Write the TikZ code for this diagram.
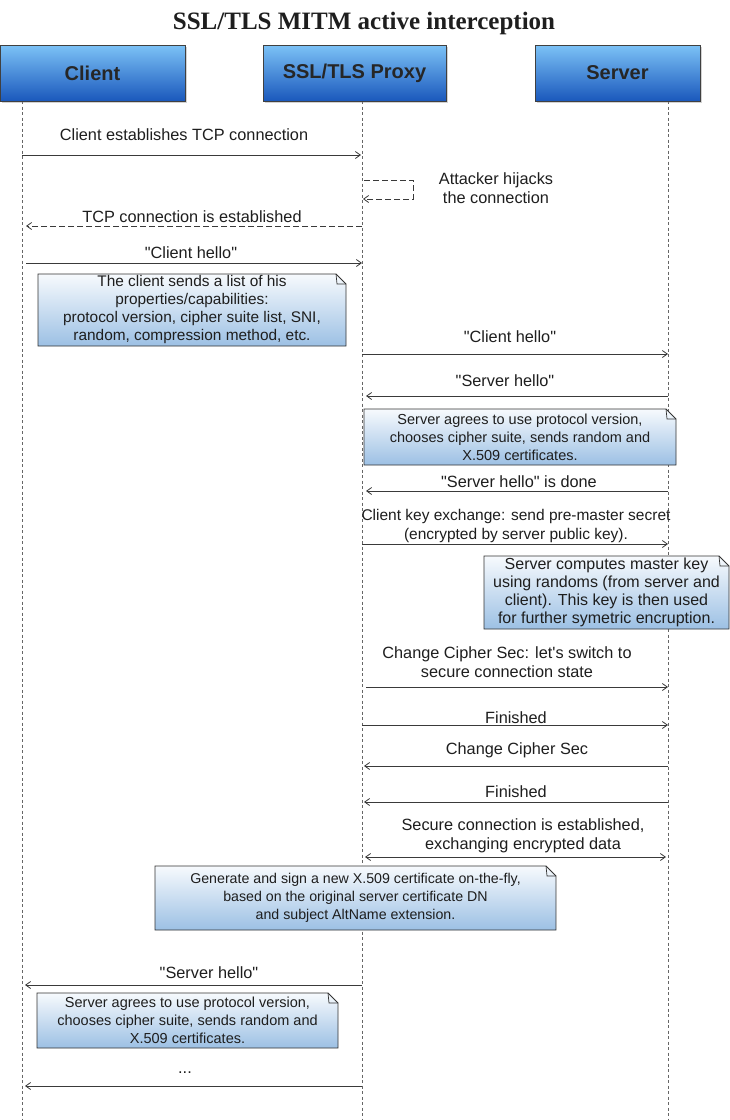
\documentclass[tikz,border=0pt]{standalone}
\usepackage{fontspec}
\setmainfont{Liberation Sans}[Ligatures=TeXOff]
\newfontfamily\titlefont{Liberation Serif}
\usetikzlibrary{arrows.meta,shadows}
\definecolor{txt}{HTML}{1E1E1E}
\definecolor{hdtop}{HTML}{7CC2F6}
\definecolor{hdbot}{HTML}{1A58BC}
\definecolor{ntop}{HTML}{F7FAFD}
\definecolor{nbot}{HTML}{9CC0E4}
\definecolor{linec}{HTML}{3A3A3A}
\tikzset{
  lifeline/.style={draw=black!60, line width=0.7pt, dash pattern=on 3pt off 2.5pt},
  msg/.style={draw=linec, line width=0.8pt, -{Straight Barb[length=5pt,width=7pt]}},
  dmsg/.style={draw=linec, line width=0.8pt, {Straight Barb[length=5pt,width=7pt]}-{Straight Barb[length=5pt,width=7pt]}},
  reply/.style={msg, dash pattern=on 6pt off 3pt},
  lbl/.style={text=txt, font=\fontsize{16.3}{19}\selectfont, align=center, inner sep=0pt},
  notetxt/.style={text=txt, font=\fontsize{14.5}{18}\selectfont, align=center, inner sep=0pt},
  notemid/.style={text=txt, font=\fontsize{15.4}{18}\selectfont, align=center, inner sep=0pt},
  notesm/.style={text=txt, font=\fontsize{14.2}{18}\selectfont, align=center, inner sep=0pt},
  notebig/.style={text=txt, font=\fontsize{16}{18}\selectfont, align=center, inner sep=0pt},
  header/.style={draw=black!75, line width=0.8pt, top color=hdtop, bottom color=hdbot,
    font=\bfseries\fontsize{20}{24}\selectfont, text=black!85, minimum height=56pt,
    drop shadow={shadow xshift=2pt, shadow yshift=-2pt, opacity=0.35}},
  notebg/.style={draw=black!80, line width=0.8pt, top color=ntop, bottom color=nbot},
  fold/.style={draw=black!80, line width=0.7pt}
}
\newcommand\notebox[7]{%
  \shade[notebg] (#3,#4) -- (#5-10,#4) -- (#5,#4+10) -- (#5,#6) -- (#3,#6) -- cycle;
  \draw[fold] (#5-10,#4) -- (#5-9,#4+10) -- (#5,#4+10);
  \node[#2] (#1) at ({(#3+#5)/2},{(#4+#6)/2}) {#7};
}
\begin{document}
\begin{tikzpicture}[x=1pt,y=-1pt]
\useasboundingbox[fill=white] (0,0) rectangle (730,1120);

\node[font=\titlefont\bfseries\fontsize{25}{30}\selectfont, text=txt, anchor=base] (title) at (364,29) {SSL/TLS MITM active interception};

% lifelines
\coordinate (cL) at (22,101);
\coordinate (pL) at (362,101);
\coordinate (sL) at (668,101);
\coordinate (cE) at (22,1120);
\coordinate (pE) at (362,1120);
\coordinate (sE) at (668,1120);
\draw[lifeline] (cL) -- (cE);
\draw[lifeline] (pL) -- (pE);
\draw[lifeline] (sL) -- (sE);

% headers
\node[header, minimum width=185pt] (client) at (92.5,73) {Client};
\node[header, minimum width=183pt] (proxy) at (354.5,73) {SSL/TLS Proxy};
\node[header, minimum width=165pt] (server) at (617.5,73) {Server};

% 1
\node[lbl] (m1) at (184,135) {Client establishes TCP connection};
\coordinate (y1) at (0,155);
\draw[msg] (cL |- y1) -- ([xshift=-1pt]pL |- y1);

% self loop
\coordinate (y2a) at (0,180);
\coordinate (y2b) at (0,199);
\coordinate (lp) at (413,180);
\draw[reply] ([xshift=2pt]pL |- y2a) -- (lp) -- (lp |- y2b) -- ([xshift=1pt]pL |- y2b);
\node[lbl] (m2) at (496,188) {Attacker hijacks\\the connection};

% 3
\node[lbl] (m3) at (192,217) {TCP connection is established};
\coordinate (y3) at (0,226);
\draw[reply] (pL |- y3) -- ([xshift=4pt]cL |- y3);

% 4
\node[lbl] (m4) at (191,253) {"Client hello"};
\coordinate (y4) at (0,263);
\draw[msg] ([xshift=4pt]cL |- y4) -- (pL |- y4);

\notebox{n1}{notemid}{38}{274}{346}{346}{The client sends a list of his\\properties/capabilities:\\protocol version, cipher suite list, SNI,\\random, compression method, etc.}

% 6
\node[lbl] (m6) at (510,337) {"Client hello"};
\coordinate (y6) at (0,354);
\draw[msg] (pL |- y6) -- (sL |- y6);

% 7
\node[lbl] (m7) at (505,381) {"Server hello"};
\coordinate (y7) at (0,396);
\draw[msg] (sL |- y7) -- ([xshift=4pt]pL |- y7);

\notebox{n2}{notetxt}{364}{409}{676}{465}{Server agrees to use protocol version,\\chooses cipher suite, sends random and\\X.509 certificates.}

% 9
\node[lbl] (m9) at (519,482) {"Server hello" is done};
\coordinate (y9) at (0,491);
\draw[msg] (sL |- y9) -- ([xshift=4pt]pL |- y9);

% 10
\node[lbl, font=\fontsize{15.5}{18.5}\selectfont] (m10) at (516,526) {Client key exchange: send pre-master secret\\(encrypted by server public key).};
\coordinate (y10) at (0,544);
\draw[msg] (pL |- y10) -- (sL |- y10);

\notebox{n3}{notebig}{484}{556}{729}{629}{Server computes master key\\using randoms (from server and\\client). This key is then used\\for further symetric encruption.}

% 12
\node[lbl] (m12) at (507,662) {Change Cipher Sec: let's switch to\\secure connection state};
\coordinate (y12) at (0,687);
\draw[msg] ([xshift=4pt]pL |- y12) -- (sL |- y12);

% 13
\node[lbl] (m13) at (516,718) {Finished};
\coordinate (y13) at (0,725);
\draw[msg] (pL |- y13) -- (sL |- y13);

% 14
\node[lbl] (m14) at (517,750) {Change Cipher Sec};
\coordinate (y14) at (0,766);
\draw[msg] (sL |- y14) -- ([xshift=2pt]pL |- y14);

% 15
\node[lbl] (m15) at (516,792) {Finished};
\coordinate (y15) at (0,802);
\draw[msg] (sL |- y15) -- ([xshift=2pt]pL |- y15);

% 16
\node[lbl] (m16) at (523,836) {Secure connection is established,\\exchanging encrypted data};
\coordinate (y16) at (0,857);
\draw[dmsg] ([xshift=3pt]pL |- y16) -- ([xshift=-2pt]sL |- y16);

\notebox{n4}{notesm}{155}{866}{556}{930}{Generate and sign a new X.509 certificate on-the-fly,\\based on the original server certificate DN\\and subject AltName extension.}

% 18
\node[lbl] (m18) at (209,973) {"Server hello"};
\coordinate (y18) at (0,985);
\draw[msg] (pL |- y18) -- ([xshift=3pt]cL |- y18);

\notebox{n5}{notetxt}{37}{993}{338}{1048}{Server agrees to use protocol version,\\chooses cipher suite, sends random and\\X.509 certificates.}

% 20
\node[lbl] (m20) at (185,1073) {...};
\coordinate (y20) at (0,1086);
\draw[msg] (pL |- y20) -- ([xshift=3pt]cL |- y20);
\end{tikzpicture}
\end{document}
